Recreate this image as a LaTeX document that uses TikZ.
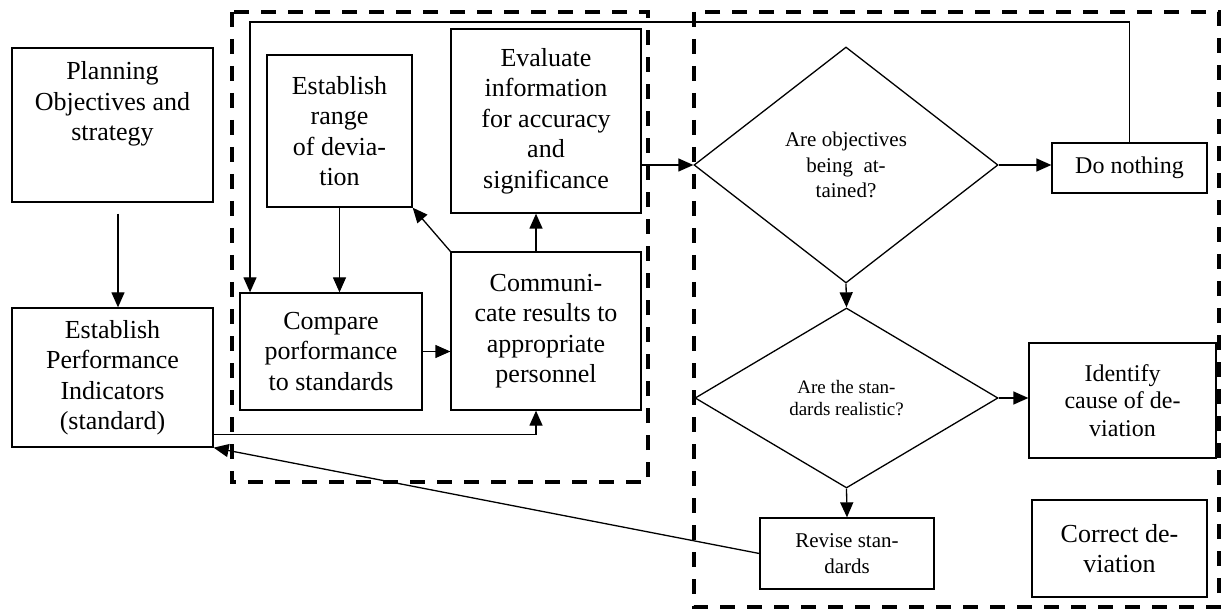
\documentclass[tikz,border=0pt]{standalone}
\usepackage{fontspec}
\setmainfont{Liberation Serif}
\usetikzlibrary{arrows.meta,shapes.geometric}

\begin{document}
\begin{tikzpicture}[
      x=1pt, y=-1pt,
      box/.style={rectangle, draw, line width=1.3pt, align=center, inner sep=2pt, font=\fontsize{26}{30.5}\selectfont},
      decision/.style={diamond, draw, line width=1.3pt, align=center, inner sep=0pt},
      link/.style={draw, line width=1.3pt, -{Triangle[length=15pt,width=13pt]}},
      zone/.style={draw, line width=4pt, dash pattern=on 15pt off 12pt},
    ]
    \useasboundingbox (0,0) rectangle (1222,609);
    % dashed groups
    \draw[zone] (232,12) rectangle (648,482);
    \draw[zone] (694,12) rectangle (1219,607);

    \node[box, minimum width=201pt, minimum height=154pt] (plan) at (112.5,125) {Planning\\Objectives and\\strategy\\[8pt]\strut};
    \node[box, minimum width=201pt, minimum height=139pt] (perf) at (112.5,377.5) {Establish\\Performance\\Indicators\\(standard)};
    \node[box, minimum width=145pt, minimum height=152pt] (range) at (339.5,131) {Establish\\range\\of devia-\\tion};
    \node[box, minimum width=182pt, minimum height=117pt] (cmp) at (331,351.5) {Compare\\porformance\\to standards};
    \node[box, minimum width=190pt, minimum height=158pt] (comm) at (546,331) {Communi-\\cate results to\\appropriate\\personnel};
    \node[box, minimum width=190pt, minimum height=184pt] (eval) at (546,121) {Evaluate\\information\\for accuracy\\and\\significance};
    \node[decision, minimum width=304pt, minimum height=236pt, font=\fontsize{21}{25.5}\selectfont] (dec1) at (846,165) {Are objectives\\being~~at-\\tained?};
    \node[decision, minimum width=303pt, minimum height=180pt, font=\fontsize{19}{21.5}\selectfont] (dec2) at (846.5,398) {Are the stan-\\dards realistic?};
    \node[box, minimum width=155pt, minimum height=50pt, font=\fontsize{24}{27.5}\selectfont] (none) at (1129.5,168) {Do nothing};
    \node[box, minimum width=187pt, minimum height=115pt, font=\fontsize{24}{27.5}\selectfont] (ident) at (1122.5,400.5) {Identify\\cause of de-\\viation};
    \node[box, minimum width=174pt, minimum height=71pt, font=\fontsize{21}{26}\selectfont] (rev) at (847,553.5) {Revise stan-\\dards};
    \node[box, minimum width=175pt, minimum height=97pt] (corr) at (1119.5,548.5) {Correct de-\\viation};

    \coordinate (loop) at (250,22);

    \draw[link] ([xshift=5.5pt,yshift=-11pt]plan.south) -- ([xshift=5.5pt]perf.north);
    \draw[link] (range.south) -- (range.south |- cmp.north);
    \draw[link] (cmp.east) -- (cmp.east -| comm.west);
    \draw[link] (comm.north west) -- (range.south east);
    \draw[link] ([xshift=-10pt]comm.north) -- ([xshift=-10pt]eval.south);
    \draw[link] ([yshift=-57pt]perf.east) -| ([xshift=-10pt]comm.south);
    \draw[link] (eval.east |- dec1.west) -- (dec1.west);
    \draw[link] (dec1.east) -- (dec1.east -| none.west);
    \draw[link] (none.north) |- (loop) -- (loop |- cmp.north);
    \draw[link] (dec1.south) -- (dec2.north);
    \draw[link] (dec2.east) -- (dec2.east -| ident.west);
    \draw[link] (dec2.south) -- (rev.north);
    \draw[link] (rev.west) -- (perf.south east);
  \end{tikzpicture}
\end{document}
